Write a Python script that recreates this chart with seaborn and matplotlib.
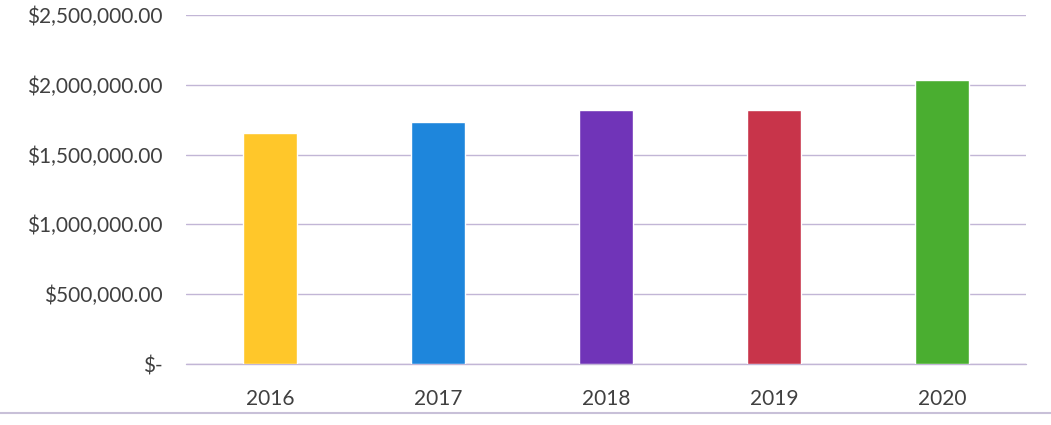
import matplotlib
matplotlib.use("Agg")
import matplotlib.pyplot as plt
import seaborn as sns
import pandas as pd
from matplotlib.ticker import FuncFormatter

years = ["2016", "2017", "2018", "2019", "2020"]
values = [1657000, 1730000, 1820000, 1818000, 2036000]
colors = ["#FFC72A", "#1E86DC", "#7034B8", "#C8344A", "#4AAE30"]
yticks = [0, 500000, 1000000, 1500000, 2000000, 2500000]

df = pd.DataFrame({"year": years, "value": values})

sns.set_theme(style="white")
plt.rcParams['font.family'] = ['Lato', 'DejaVu Sans']

fig = plt.figure(figsize=(10.51, 4.25), dpi=100)
ax = fig.add_axes([0.177, 0.1435, 0.799, 0.8215])

sns.barplot(data=df, x="year", y="value", hue="year", palette=colors,
            width=0.32, legend=False, ax=ax, saturation=1)

ax.set_ylim(0, 2500000)
ax.set_xlim(-0.5, 4.5)
ax.set_yticks(yticks)

def fmt(v, pos):
    if v == 0:
        return "$-"
    return "${:,.2f}".format(v)

grid_color = "#C2B6D6"
ax.yaxis.set_major_formatter(FuncFormatter(fmt))
ax.yaxis.grid(True, color=grid_color, linewidth=1.0)
ax.axhline(0, color=grid_color, linewidth=1.0, clip_on=False, zorder=0.5)
ax.set_axisbelow(True)
for s in ax.spines.values():
    s.set_visible(False)
ax.tick_params(axis="y", length=0, pad=17, labelsize=15, labelcolor="#404040")
ax.tick_params(axis="x", length=0, pad=18, labelsize=15, labelcolor="#404040")
ax.set_xlabel("")
ax.set_ylabel("")

fig.add_artist(plt.Line2D([0, 1], [0.028, 0.028], color="#C8C0D8", linewidth=1.5,
                          transform=fig.transFigure))

fig.savefig("out.png", dpi=100)
